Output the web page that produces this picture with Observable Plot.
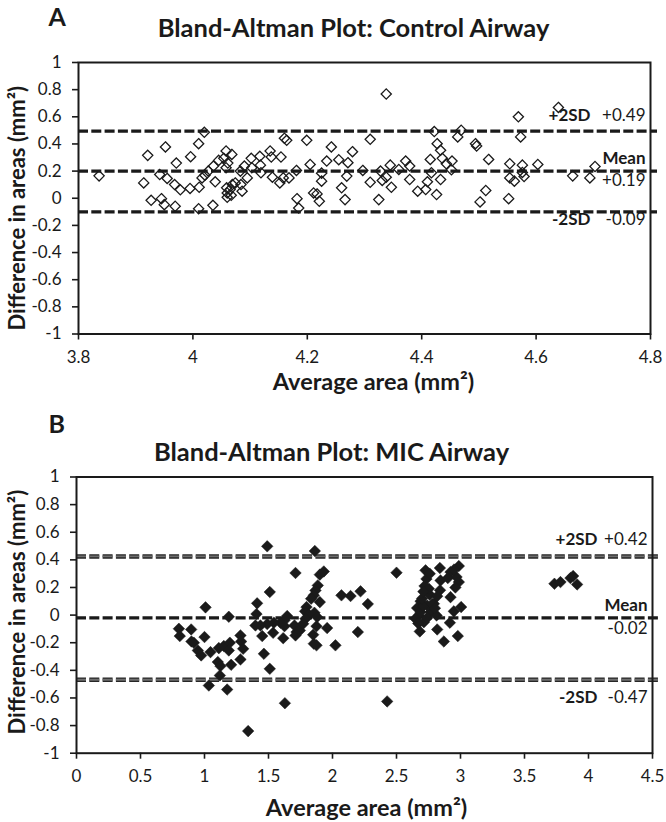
<!DOCTYPE html>
<html><head><meta charset="utf-8">
<script src="https://cdn.jsdelivr.net/npm/d3@7"></script>
<script src="https://cdn.jsdelivr.net/npm/@observablehq/plot@0.6"></script>
<style>
body{margin:0;background:#fff;}
#wrap{position:relative;width:666px;height:822px;}
#wrap svg{position:absolute;left:0;overflow:visible;}
</style></head>
<body><div id="wrap"></div>
<script>
// ---- Panel A: Control airway ----
const controlAvg = [3.836,3.921,3.914,3.927,3.942,3.945,3.950,3.952,3.955,3.969,3.971,3.968,3.978,3.995,3.996,4.010,4.010,4.020,4.011,4.016,4.021,4.027,4.035,4.039,4.036,4.045,4.054,4.058,4.061,4.068,4.058,4.059,4.060,4.060,4.065,4.067,4.069,4.074,4.084,4.086,4.083,4.090,4.095,4.102,4.103,4.117,4.119,4.118,4.135,4.137,4.139,4.152,4.154,4.158,4.160,4.164,4.168,4.181,4.182,4.185,4.199,4.205,4.211,4.217,4.221,4.225,4.225,4.234,4.242,4.255,4.260,4.266,4.269,4.271,4.279,4.297,
4.310,4.310,4.325,4.328,4.331,4.338,4.338,4.345,4.347,4.360,4.372,4.379,4.379,4.393,4.407,4.410,4.415,4.417,4.422,4.426,4.427,4.433,4.433,4.436,4.443,4.453,4.452,4.463,4.469,4.494,4.496,4.502,4.512,4.517,4.552,4.554,4.554,4.562,4.569,4.573,4.576,4.576,4.579,4.603,4.639,4.664,4.694,4.703];
const controlDiff = [0.165,0.316,0.113,-0.015,0.175,-0.003,-0.047,0.378,0.146,-0.059,0.259,0.101,0.062,0.072,0.306,-0.077,0.402,0.486,0.081,0.150,0.170,0.200,-0.052,0.121,0.237,0.279,0.294,0.348,0.259,0.323,0.225,0.077,0.007,0.039,0.064,0.022,0.101,0.113,0.101,0.052,0.200,0.237,0.150,0.294,0.225,0.309,0.188,0.244,0.348,0.304,0.155,0.113,0.304,0.150,0.442,0.427,0.150,0.205,-0.003,-0.072,0.427,0.249,0.039,0.032,-0.022,0.126,0.185,0.274,0.378,0.284,0.077,-0.010,0.163,0.262,0.343,0.205,
0.434,0.118,-0.010,0.200,0.131,0.768,0.155,0.244,0.081,0.212,0.274,0.237,0.138,0.052,0.064,0.121,0.286,0.188,0.491,0.027,0.402,0.353,0.138,0.294,0.254,0.274,0.210,0.452,0.501,0.402,0.385,-0.027,0.057,0.286,-0.003,0.254,0.150,0.126,0.600,0.452,0.244,0.190,0.160,0.249,0.669,0.165,0.150,0.234];
const controlLines = [0.495, 0.2, -0.1];
const controlValues = ["+0.49", "+0.19", "-0.09"];
const controlXTicks = [3.8, 4, 4.2, 4.4, 4.6, 4.8];

// ---- Panel B: MIC airway ----
const micAvg = [1.490,1.862,1.711,1.901,1.932,1.885,1.867,1.854,1.833,1.510,1.411,1.406,1.008,1.190,2.070,2.141,2.219,2.276,1.901,1.797,1.786,1.815,1.859,1.880,1.789,1.646,1.625,1.594,1.542,1.490,1.437,1.398,1.451,1.536,1.615,1.625,1.703,1.719,1.711,1.745,1.771,1.875,1.958,1.849,1.854,1.875,2.023,2.198,1.464,1.510,1.628,1.341,0.800,0.807,0.896,0.898,0.917,1.000,0.948,0.974,1.047,1.112,1.151,1.198,1.190,1.104,1.125,1.208,1.281,1.286,1.302,1.281,1.120,1.034,1.177,
2.500,2.427,2.727,2.839,2.922,2.987,2.969,2.987,2.734,2.719,2.844,2.901,2.760,2.818,2.922,2.753,2.688,2.661,2.674,2.648,2.714,2.682,2.766,2.792,2.813,2.740,2.948,3.005,2.917,2.818,2.870,2.979,2.688,2.708,2.700,2.760,2.780,2.670,2.800,2.840,2.950,2.960,2.740,2.710,
3.734,3.781,3.859,3.880,3.911];
const micDiff = [0.498,0.464,0.305,0.293,0.316,0.215,0.179,0.143,0.119,0.167,0.085,0.008,0.056,-0.012,0.143,0.138,0.172,0.080,0.094,0.058,0.027,0.003,0.017,-0.014,-0.026,-0.007,-0.038,-0.055,-0.055,-0.065,-0.075,-0.075,-0.152,-0.128,-0.167,-0.080,-0.075,-0.123,-0.147,-0.111,-0.063,-0.080,-0.094,-0.142,-0.207,-0.219,-0.219,-0.123,-0.280,-0.389,-0.638,-0.840,-0.099,-0.152,-0.104,-0.191,-0.200,-0.159,-0.256,-0.292,-0.268,-0.239,-0.224,-0.200,-0.256,-0.340,-0.369,-0.360,-0.147,-0.191,-0.244,-0.321,-0.437,-0.510,-0.539,
0.307,-0.625,0.324,0.341,0.312,0.355,0.276,0.239,0.262,0.210,0.251,0.268,0.147,0.137,0.130,0.191,0.100,0.051,-0.002,-0.026,-0.051,-0.118,0.022,0.082,-0.002,0.070,0.027,0.058,-0.055,-0.104,-0.191,-0.152,0.022,0.065,0.120,0.300,0.080,-0.060,0.050,0.180,0.330,0.200,-0.020,0.170,
0.227,0.239,0.268,0.283,0.222];
const micLines = [0.425, -0.02, -0.468];
const micValues = ["+0.42", "-0.02", "-0.47"];
const micXTicks = [0, 0.5, 1, 1.5, 2, 2.5, 3, 3.5, 4, 4.5];

const limitNames = ["+2SD", "Mean", "-2SD"];
const yTicks = [-1, -0.8, -0.6, -0.4, -0.2, 0, 0.2, 0.4, 0.6, 0.8, 1];
const xLabel = "Average area (mm²)";
const yLabel = "Difference in areas (mm²)";

const FONT = "Lato, 'Open Sans', sans-serif";
const INK = "#1a1a1a";

function panel(o) {
  const pts = o.avg.map((a, i) => ({a, d: o.diff[i]}));
  const rows = o.lines.map((v, i) => ({v, name: limitNames[i], val: o.values[i]}));
  const dash = "10,3.3";
  const lineMarks = o.grey
    ? [
        Plot.ruleY([rows[0], rows[2]], {y: "v", stroke: "#262626", strokeWidth: 4.5, strokeDasharray: dash, insetRight: -7}),
        Plot.ruleY([rows[0], rows[2]], {y: "v", stroke: "#6e6e6e", strokeWidth: 1.8, strokeDasharray: dash, insetRight: -7}),
        Plot.ruleY([rows[1]], {y: "v", stroke: INK, strokeWidth: 3.2, strokeDasharray: dash, insetRight: -7})
      ]
    : [Plot.ruleY(rows, {y: "v", stroke: INK, strokeWidth: 3.3, strokeDasharray: dash, insetRight: -7})];
  const txt = (data, opts) => Plot.text(data, {frameAnchor: "right", textAnchor: "end", lineAnchor: "middle", fill: INK, fontFamily: FONT, fontSize: 17, ...opts});
  const label = (s, opts) => Plot.text([s], {textAnchor: "middle", lineAnchor: "middle", fontWeight: 700, fill: INK, fontFamily: FONT, ...opts});
  return Plot.plot({
    width: 666,
    height: o.height,
    marginLeft: o.ml, marginRight: o.mr, marginTop: o.mt, marginBottom: o.mb,
    style: {fontFamily: FONT, color: INK, background: "transparent", overflow: "visible"},
    x: {domain: o.xDomain},
    y: {domain: [-1, 1]},
    marks: [
      Plot.axisY({ticks: yTicks, tickFormat: d => String(d), tickSize: 6, tickPadding: 11, fontSize: 17, label: null, strokeWidth: 1.6}),
      Plot.axisX({ticks: o.xTicks, tickFormat: d => String(d), tickSize: 6, tickPadding: o.xPad, fontSize: 17, label: null, strokeWidth: 1.6}),
      ...lineMarks,
      Plot.dot(pts, {x: "a", y: "d", symbol: "diamond2", r: o.r, stroke: INK, strokeWidth: o.filled ? 0.5 : 1.3, fill: o.filled ? INK : "none"}),
      Plot.frame({stroke: INK, strokeWidth: 2}),
      // limit labels
      txt([rows[0]], {y: "v", text: "name", fontWeight: 700, dx: o.nameDx, dy: o.dys[0]}),
      txt([rows[0]], {y: "v", text: "val", dx: -5, dy: o.dys[0]}),
      txt([rows[1]], {y: "v", text: "name", fontWeight: 700, dx: -5, dy: o.dys[1]}),
      txt([rows[1]], {y: "v", text: "val", dx: -5, dy: o.dys[2]}),
      txt([rows[2]], {y: "v", text: "name", fontWeight: 700, dx: o.nameDx, dy: o.dys[3]}),
      txt([rows[2]], {y: "v", text: "val", dx: -5, dy: o.dys[3]}),
      // panel letter, title, axis labels
      label(o.letter, {frameAnchor: "top-left", textAnchor: "start", dx: o.letterDx, dy: o.letterDy, fontSize: 25}),
      label(o.title, {frameAnchor: "top", dx: o.titleDx, dy: o.titleDy, fontSize: 25.5}),
      label(yLabel, {frameAnchor: "left", rotate: -90, dx: o.ylDx, dy: o.ylDy, fontSize: 22}),
      label(xLabel, {frameAnchor: "bottom", dx: o.xlDx, dy: o.xlDy, fontSize: 23.5})
    ]
  });
}

const a = panel({
  avg: controlAvg, diff: controlDiff, lines: controlLines, values: controlValues,
  xDomain: [3.8, 4.8], xTicks: controlXTicks, xPad: 11,
  height: 400, ml: 78, mr: 16, mt: 62, mb: 66.5,
  r: 4.6, filled: false, grey: false,
  nameDx: -60, dys: [-15.7, -12.4, 9.6, 7.5],
  letter: "A", letterDx: -30, letterDy: -44.5,
  title: "Bland-Altman Plot: Control Airway", titleDx: -11, titleDy: -34,
  ylDx: -60.5, ylDy: 10, xlDx: 9, xlDy: 48.5
});
const b = panel({
  avg: micAvg, diff: micDiff, lines: micLines, values: micValues,
  xDomain: [0, 4.5], xTicks: micXTicks, xPad: 11,
  height: 422, ml: 76, mr: 14, mt: 76.5, mb: 69.3,
  r: 5.2, filled: true, grey: true,
  nameDx: -55, dys: [-16.4, -12.5, 10.5, 17.5],
  letter: "B", letterDx: -28, letterDy: -52,
  title: "Bland-Altman Plot: MIC Airway", titleDx: -33, titleDy: -24.5,
  ylDx: -58.5, ylDy: -3, xlDx: 2, xlDy: 55.5
});
a.style.top = "0px";
b.style.top = "400px";
const wrap = document.getElementById("wrap");
wrap.appendChild(a);
wrap.appendChild(b);
</script>
</body></html>
